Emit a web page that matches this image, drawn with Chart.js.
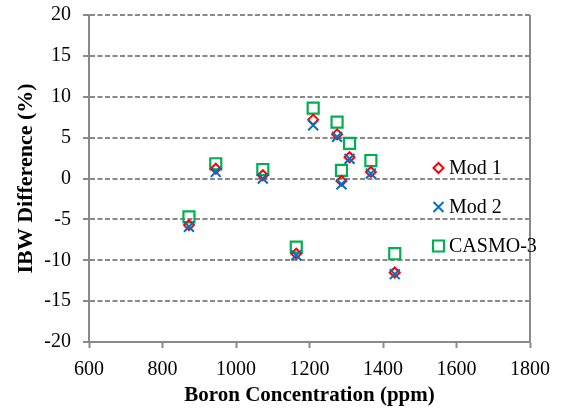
<!DOCTYPE html>
<html>
<head>
<meta charset="utf-8">
<script src="https://cdn.jsdelivr.net/npm/chart.js@4"></script>
<style>
    html, body { margin: 0; padding: 0; background: #ffffff; }
    #wrap { position: relative; width: 561px; height: 410px; }
</style>
</head>
<body>
<div id="wrap"><canvas id="ibwChart" width="561" height="410"></canvas></div>
<script>
const boron = [872, 945, 1073, 1164, 1210, 1275, 1287, 1309, 1367, 1432];
const mod1 = [-5.7, 1.2, 0.4, -9.2, 7.2, 5.4, -0.3, 2.6, 0.8, -11.5];
const mod2 = [-5.9, 0.8, 0.0, -9.4, 6.5, 5.1, -0.7, 2.4, 0.6, -11.7];
const casmo3 = [-4.7, 1.8, 1.1, -8.4, 8.6, 6.9, 1.0, 4.3, 2.2, -9.2];
const seriesNames = ["Mod 1", "Mod 2", "CASMO-3"];

const xMin = 600, xMax = 1800, xStep = 200;
const yMin = -20, yMax = 20, yStep = 5;

const axisGray = "#898989";
const serif = "'Liberation Serif', 'Times New Roman', serif";

function toPoints(ys) {
    return boron.map((x, i) => ({ x: x, y: ys[i] }));
}

// right frame line + Excel style legend sitting inside the plot
const framePlugin = {
    id: "frameAndLegend",
    afterDraw(chart) {
        const c = chart.ctx;
        const area = chart.chartArea;
        c.save();
        c.strokeStyle = axisGray;
        c.lineWidth = 2;
        c.beginPath();
        c.moveTo(area.right, area.top);
        c.lineTo(area.right, area.bottom);
        c.stroke();

        const lx = 438.5, ly = 168, gap = 39;
        c.font = "20px " + serif;
        c.fillStyle = "#000000";
        c.textBaseline = "middle";
        c.textAlign = "left";
        chart.data.datasets.forEach((ds, i) => {
            const y = ly + i * gap;
            c.strokeStyle = ds.borderColor;
            c.lineWidth = ds.borderWidth;
            c.beginPath();
            if (ds.pointStyle === "rectRot") {
                c.moveTo(lx - 5, y);
                c.lineTo(lx, y - 5);
                c.lineTo(lx + 5, y);
                c.lineTo(lx, y + 5);
                c.closePath();
            } else if (ds.pointStyle === "crossRot") {
                c.moveTo(lx - 5, y - 5);
                c.lineTo(lx + 5, y + 5);
                c.moveTo(lx + 5, y - 5);
                c.lineTo(lx - 5, y + 5);
            } else {
                c.rect(lx - 5.5, y - 5.5, 11, 11);
            }
            c.stroke();
            c.fillText(ds.label, lx + 10.5, y + 1);
        });
        c.restore();
    }
};

new Chart(document.getElementById("ibwChart"), {
    type: "scatter",
    data: {
        datasets: [
            {
                label: seriesNames[0],
                data: toPoints(mod1),
                pointStyle: "rectRot",
                radius: 5,
                borderColor: "#ff0000",
                backgroundColor: "rgba(0,0,0,0)",
                borderWidth: 2,
                order: 2
            },
            {
                label: seriesNames[1],
                data: toPoints(mod2),
                pointStyle: "crossRot",
                radius: 7,
                borderColor: "#0070c0",
                backgroundColor: "rgba(0,0,0,0)",
                borderWidth: 2,
                order: 1
            },
            {
                label: seriesNames[2],
                data: toPoints(casmo3),
                pointStyle: "rect",
                radius: 7.8,
                borderColor: "#00b050",
                backgroundColor: "rgba(0,0,0,0)",
                borderWidth: 2.2,
                order: 3
            }
        ]
    },
    options: {
        responsive: false,
        animation: false,
        events: [],
        layout: {
            padding: { top: 15, right: 31, bottom: 0, left: 0 }
        },
        plugins: {
            legend: { display: false },
            tooltip: { enabled: false }
        },
        scales: {
            x: {
                type: "linear",
                min: xMin,
                max: xMax,
                ticks: {
                    stepSize: xStep,
                    padding: 10,
                    color: "#000000",
                    font: { family: serif, size: 20 },
                    callback: v => String(v)
                },
                grid: {
                    drawOnChartArea: false,
                    drawTicks: true,
                    tickLength: 6,
                    tickColor: axisGray,
                    tickWidth: 2
                },
                border: { display: true, color: axisGray, width: 2 },
                title: {
                    display: true,
                    text: "Boron Concentration (ppm)",
                    color: "#000000",
                    font: { family: serif, size: 21, weight: "bold" },
                    padding: { top: 0, bottom: 2 }
                },
                afterFit(scale) { scale.height = 68; }
            },
            y: {
                min: yMin,
                max: yMax,
                ticks: {
                    stepSize: yStep,
                    padding: 12,
                    color: "#000000",
                    font: { family: serif, size: 20 },
                    callback: v => String(v)
                },
                grid: {
                    color: axisGray,
                    lineWidth: 2,
                    drawTicks: true,
                    tickLength: 6,
                    tickColor: axisGray,
                    tickWidth: 2
                },
                border: { display: true, color: axisGray, width: 2, dash: [5, 2.5] },
                title: {
                    display: true,
                    text: "IBW Difference (%)",
                    color: "#000000",
                    font: { family: serif, size: 22, weight: "bold" },
                    padding: { top: 13, bottom: 0 }
                },
                afterFit(scale) {
                    scale.width = 89;
                    scale.paddingTop = 0;
                    scale.paddingBottom = 0;
                }
            }
        }
    },
    plugins: [framePlugin]
});
</script>
</body>
</html>
